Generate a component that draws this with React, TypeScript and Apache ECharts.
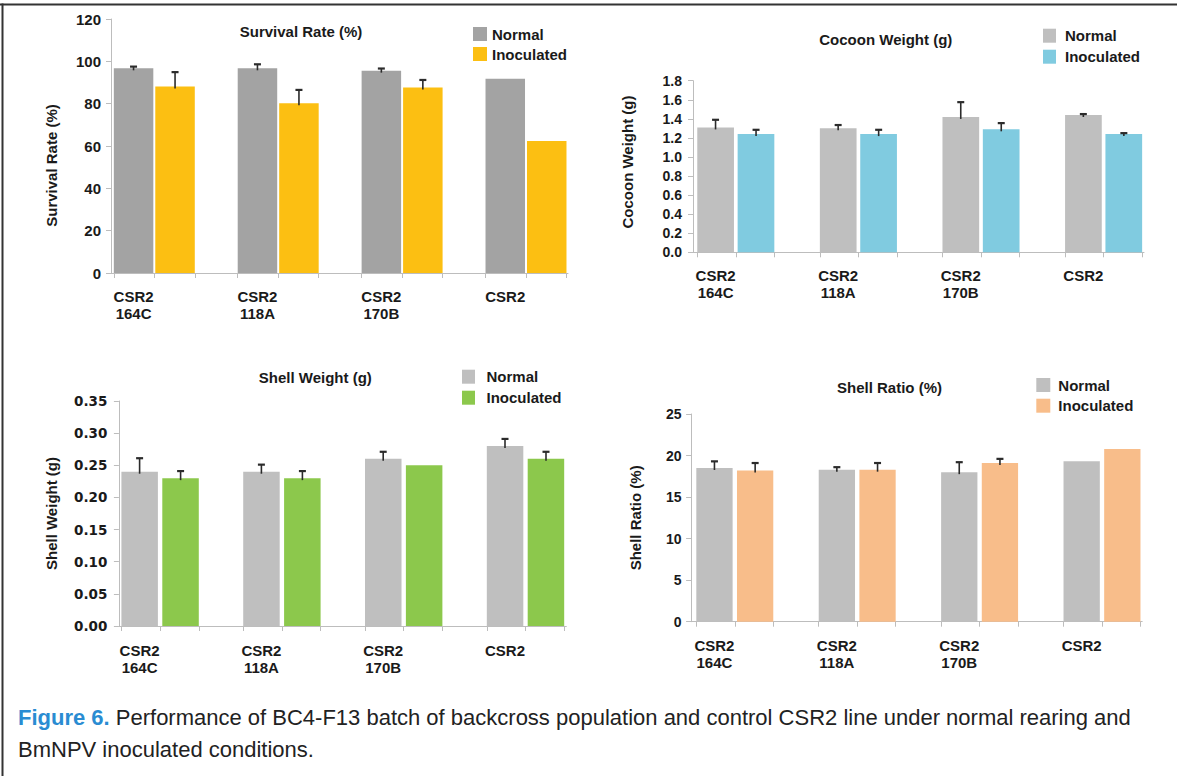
import React, { useEffect, useRef } from "react";
import * as echarts from "echarts";

// ---------- data ----------
const categories = ["CSR2\n164C", "CSR2\n118A", "CSR2\n170B", "CSR2"];
const seriesNames = ["Normal", "Inoculated"];

const survivalNormal = [96.7, 96.7, 95.6, 91.8];
const survivalNormalErr = [0.8, 1.9, 1.0, 0];
const survivalInoc = [88.1, 80.2, 87.6, 62.4];
const survivalInocErr = [6.8, 6.3, 3.6, 0];

const cocoonNormal = [1.31, 1.3, 1.42, 1.44];
const cocoonNormalErr = [0.08, 0.035, 0.155, 0.01];
const cocoonInoc = [1.24, 1.24, 1.29, 1.24];
const cocoonInocErr = [0.045, 0.045, 0.065, 0.01];

const shellWeightNormal = [0.24, 0.24, 0.26, 0.28];
const shellWeightNormalErr = [0.021, 0.011, 0.011, 0.011];
const shellWeightInoc = [0.23, 0.23, 0.25, 0.26];
const shellWeightInocErr = [0.011, 0.011, 0, 0.011];

const shellRatioNormal = [18.5, 18.3, 18.0, 19.3];
const shellRatioNormalErr = [0.8, 0.3, 1.2, 0];
const shellRatioInoc = [18.2, 18.3, 19.1, 20.8];
const shellRatioInocErr = [0.9, 0.8, 0.5, 0];

const captionLead = "Figure 6.";
const captionLine1 =
  " Performance of BC4-F13 batch of backcross population and control CSR2 line under normal rearing and";
const captionLine2 = "BmNPV inoculated conditions.";

// ---------- styles / layout ----------
const W = 1177;
const H = 776;
const FONT = "'Liberation Sans', Arial, Helvetica, sans-serif";
const AXIS = "#bdbdbd";
const TEXT = "#1a1a1a";
const ERR = "#2b2b2b";

const panels = [
  {
    title: "Survival Rate (%)", yName: "Survival Rate (%)",
    normal: survivalNormal, normalErr: survivalNormalErr, inoc: survivalInoc, inocErr: survivalInocErr,
    yMax: 120, yStep: 20, decimals: 0,
    grayColor: "#a3a3a3", inocColor: "#fcbf12",
    axisLeft: 111, axisRight: 568, axisTop: 19, axisBottom: 273,
    groupCenter0: 154.3, spacing: 123.9, barW: 39.5, gap: 2, barGap: "5%",
    titleX: 301, titleY: 31.7,
    legendX: 473, legendY: 34, legendStep: 20, legendPad: 0, legendIconW: 14,
    yNameGap: 52, yNamePad: [0, 39, 0, 0],
    tickFamily: "'Liberation Sans Narrow', 'Liberation Sans', Arial, sans-serif", tickSize: 15, tickMargin: 10,
    xLabelMargin: 14.5,
  },
  {
    title: "Cocoon Weight (g)", yName: "Cocoon Weight (g)",
    normal: cocoonNormal, normalErr: cocoonNormalErr, inoc: cocoonInoc, inocErr: cocoonInocErr,
    yMax: 1.8, yStep: 0.2, decimals: 1,
    grayColor: "#bfbfbf", inocColor: "#80cbe0",
    axisLeft: 693, axisRight: 1144, axisTop: 80.7, axisBottom: 252.3,
    groupCenter0: 735.8, spacing: 122.6, barW: 36.7, gap: 3.8, barGap: "10%",
    titleX: 885.8, titleY: 39.3,
    legendX: 1043, legendY: 35.7, legendStep: 21, legendPad: 4, legendIconW: 13,
    yNameGap: 58, yNamePad: [0, 0, 0, 9],
    tickFamily: FONT, tickSize: 14, tickMargin: 11,
    xLabelMargin: 15,
  },
  {
    title: "Shell Weight (g)", yName: "Shell Weight (g)",
    normal: shellWeightNormal, normalErr: shellWeightNormalErr, inoc: shellWeightInoc, inocErr: shellWeightInocErr,
    yMax: 0.35, yStep: 0.05, decimals: 2,
    grayColor: "#bfbfbf", inocColor: "#8cc84c",
    axisLeft: 118.9, axisRight: 566.3, axisTop: 401, axisBottom: 626,
    groupCenter0: 160.1, spacing: 121.8, barW: 36.5, gap: 4.5, barGap: "12%",
    titleX: 315.3, titleY: 377.7,
    legendX: 462, legendY: 376.7, legendStep: 21, legendPad: 6.5, legendIconW: 13,
    yNameGap: 60, yNamePad: [0, 0, 0, 0],
    tickFamily: "'DejaVu Sans', Verdana, sans-serif", tickSize: 13.5, tickMargin: 11.5,
    xLabelMargin: 15.5,
  },
  {
    title: "Shell Ratio (%)", yName: "Shell Ratio (%)",
    normal: shellRatioNormal, normalErr: shellRatioNormalErr, inoc: shellRatioInoc, inocErr: shellRatioInocErr,
    yMax: 25, yStep: 5, decimals: 0,
    grayColor: "#bfbfbf", inocColor: "#f8bd8a",
    axisLeft: 691.1, axisRight: 1142.2, axisTop: 414, axisBottom: 621.7,
    groupCenter0: 734.8, spacing: 122.4, barW: 36.3, gap: 4.4, barGap: "12%",
    titleX: 889.5, titleY: 387.7,
    legendX: 1036.3, legendY: 385, legendStep: 20.7, legendPad: 3, legendIconW: 14,
    yNameGap: 48.5, yNamePad: [0, 0, 0, 0],
    tickFamily: FONT, tickSize: 14, tickMargin: 9.5,
    xLabelMargin: 15,
  },
];

function textWidth(text: string, font: string): number {
  const ctx = document.createElement("canvas").getContext("2d");
  if (!ctx) return text.length * 8;
  ctx.font = font;
  return ctx.measureText(text).width;
}

function errorSeries(k: number, vals: number[], errs: number[], dx: number) {
  return {
    type: "custom",
    xAxisIndex: k,
    yAxisIndex: k,
    z: 5,
    silent: true,
    encode: { x: 0, y: 1 },
    data: vals.map((v, i) => [i, v, errs[i]]),
    renderItem: (_params: any, api: any) => {
      const e = api.value(2) as number;
      if (!e) return { type: "group", children: [] };
      const b = api.coord([api.value(0), api.value(1)]);
      const t = api.coord([api.value(0), (api.value(1) as number) + e]);
      const x = b[0] + dx;
      return {
        type: "group",
        children: [
          { type: "line", shape: { x1: x, y1: b[1] + 2, x2: x, y2: t[1] }, style: { stroke: ERR, lineWidth: 1.6 } },
          { type: "line", shape: { x1: x - 3.5, y1: t[1], x2: x + 3.5, y2: t[1] }, style: { stroke: ERR, lineWidth: 2.2 } },
        ],
      };
    },
  };
}

function buildOption() {
  const grid: any[] = [];
  const xAxis: any[] = [];
  const yAxis: any[] = [];
  const series: any[] = [];
  const title: any[] = [];
  const legend: any[] = [];
  const idx = categories.map((_, i) => i);

  panels.forEach((p, k) => {
    const xMin = (p.axisLeft - p.groupCenter0) / p.spacing;
    const xMax = (p.axisRight - p.groupCenter0) / p.spacing;
    const shiftPx = (p.barW + p.gap) / 2;
    const labelShift = shiftPx / p.spacing;
    const edge = (p.barW + p.gap / 2) / p.spacing;

    grid.push({
      left: p.axisLeft, top: p.axisTop,
      width: p.axisRight - p.axisLeft, height: p.axisBottom - p.axisTop,
      containLabel: false, outerBoundsMode: "none",
    });
    xAxis.push({
      type: "value", gridIndex: k, min: xMin, max: xMax, position: "bottom",
      axisLine: { show: true, onZero: false, lineStyle: { color: AXIS, width: 1 } },
      axisTick: {
        show: true, length: 5, lineStyle: { color: AXIS },
        customValues: idx.flatMap((i) => [i - edge, i, i + edge]),
      },
      splitLine: { show: false },
      axisLabel: {
        customValues: idx.map((i) => i - labelShift),
        formatter: (v: number) => categories[Math.round(v + labelShift)] ?? "",
        fontFamily: FONT, fontSize: 15, fontWeight: "bold", color: TEXT,
        lineHeight: 17, margin: p.xLabelMargin,
      },
    });
    yAxis.push({
      type: "value", gridIndex: k, min: 0, max: p.yMax, interval: p.yStep, position: "left",
      axisLine: { show: true, onZero: false, lineStyle: { color: AXIS, width: 1 } },
      axisTick: { show: true, length: 5, lineStyle: { color: AXIS } },
      splitLine: { show: false },
      axisLabel: {
        formatter: (v: number) => v.toFixed(p.decimals),
        fontFamily: p.tickFamily, fontSize: p.tickSize, fontWeight: "bold", color: TEXT, margin: p.tickMargin,
      },
      name: p.yName, nameLocation: "middle", nameGap: p.yNameGap, nameRotate: 90,
      nameTextStyle: { fontFamily: FONT, fontSize: 15, fontWeight: "bold", color: TEXT, padding: p.yNamePad },
    });

    series.push({
      type: "bar", name: seriesNames[0], xAxisIndex: k, yAxisIndex: k,
      data: p.normal.map((v, i) => [i, v]),
      barWidth: p.barW, barGap: p.barGap, silent: true,
      itemStyle: { color: p.grayColor },
    });
    series.push({
      type: "bar", name: seriesNames[1], xAxisIndex: k, yAxisIndex: k,
      data: p.inoc.map((v, i) => [i, v]),
      barWidth: p.barW, barGap: p.barGap, silent: true,
      itemStyle: { color: p.inocColor },
    });
    series.push(errorSeries(k, p.normal, p.normalErr, -shiftPx));
    series.push(errorSeries(k, p.inoc, p.inocErr, shiftPx));

    const tFont = `bold 15px ${FONT}`;
    const tw = textWidth(p.title, tFont);
    title.push({
      text: p.title, left: p.titleX - tw / 2, top: p.titleY - 9, padding: 0,
      textStyle: { fontFamily: FONT, fontSize: 15, fontWeight: "bold", color: TEXT, lineHeight: 18 },
    });
    legend.push({
      orient: "vertical", left: p.legendX, top: p.legendY - 10, padding: 0,
      itemWidth: p.legendIconW, itemHeight: 14, itemGap: p.legendStep - 20, icon: "rect",
      selectedMode: false,
      data: [
        { name: seriesNames[0], itemStyle: { color: p.grayColor } },
        { name: seriesNames[1], itemStyle: { color: p.inocColor } },
      ],
      textStyle: {
        fontFamily: FONT, fontSize: 15, fontWeight: "bold", color: TEXT, lineHeight: 20,
        padding: [0, 0, 0, p.legendPad],
      },
    });
  });

  // caption font size fitted between the justified first line and the second line
  const target = 1146;
  const w20 =
    textWidth(captionLead, `bold 20px ${FONT}`) + textWidth(captionLine1, `20px ${FONT}`);
  let cs = (20 * target) / (w20 || target);
  cs = Math.max(18, Math.min(22, cs));

  const graphic = [
    { type: "line", silent: true, shape: { x1: 0, y1: 4.5, x2: W, y2: 4.5 }, style: { stroke: "#333", lineWidth: 2 } },
    { type: "line", silent: true, shape: { x1: 2.5, y1: 3.5, x2: 2.5, y2: H }, style: { stroke: "#333", lineWidth: 2 } },
    {
      type: "text", x: 18, y: 717.5, silent: true,
      style: {
        text: `{b|${captionLead}}${captionLine1}`,
        fontFamily: FONT, fontSize: cs, fill: "#222", verticalAlign: "middle",
        rich: { b: { fontFamily: FONT, fontSize: cs, fontWeight: "bold", fill: "#2a8cd2" } },
      },
    },
    {
      type: "text", x: 18, y: 749, silent: true,
      style: { text: captionLine2, fontFamily: FONT, fontSize: cs, fill: "#222", verticalAlign: "middle" },
    },
  ];

  return {
    animation: false,
    backgroundColor: "#ffffff",
    textStyle: { fontFamily: FONT },
    grid, xAxis, yAxis, series, title, legend, graphic,
  };
}

export default function App() {
  const ref = useRef<HTMLDivElement>(null);
  useEffect(() => {
    if (!ref.current) return;
    const chart = echarts.init(ref.current, undefined, { renderer: "svg", width: W, height: H });
    chart.setOption(buildOption() as any);
    return () => chart.dispose();
  }, []);
  return (
    <div
      ref={ref}
      style={{ position: "fixed", left: 0, top: 0, width: W, height: H, background: "#fff" }}
    />
  );
}
